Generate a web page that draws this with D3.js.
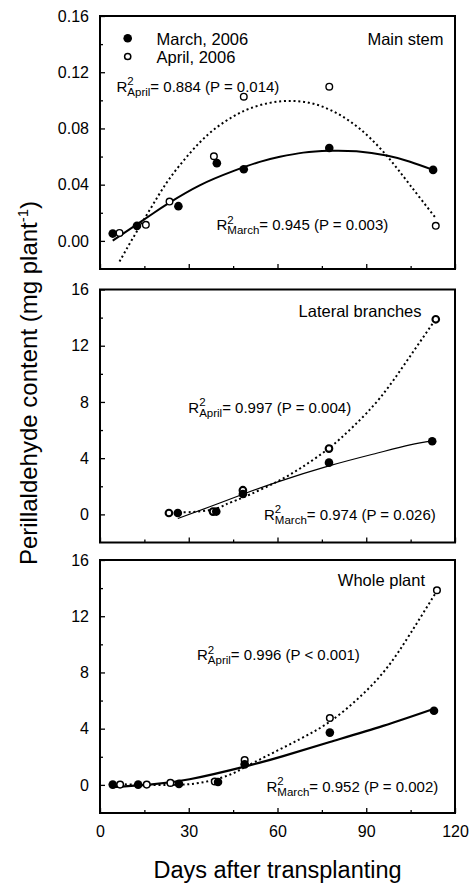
<!DOCTYPE html>
<html>
<head>
<meta charset="utf-8">
<script src="https://cdn.jsdelivr.net/npm/d3@7"></script>
<style>
  body { margin: 0; background: #fff; }
  svg { display: block; font-family: "Liberation Sans", Arial, sans-serif; }
</style>
</head>
<body>
<svg id="chart" width="469" height="885"></svg>
<script>
// ---- data ----
const panelNames = ["Main stem", "Lateral branches", "Whole plant"];
const seriesNames = ["March, 2006", "April, 2006"];
const xTicks = [0, 30, 60, 90, 120];
const xMinor = [15, 45, 75, 105];

// Main stem (mg plant-1)
const stemYTicks = [0.00, 0.04, 0.08, 0.12, 0.16];
const stemYMinor = [0.02, 0.06, 0.10, 0.14];
const stemMarchDays = [4.3, 12.5, 26.5, 39.5, 48.6, 77.5, 112.6];
const stemMarchVals = [0.0052, 0.0107, 0.0247, 0.0553, 0.0510, 0.0661, 0.0505];
const stemAprilDays = [6.6, 15.5, 23.5, 38.5, 48.6, 77.5, 113.5];
const stemAprilVals = [0.0057, 0.0114, 0.0280, 0.0602, 0.1026, 0.1097, 0.0107];
const stemMarchFitDays = [4.3, 11.1, 17.9, 23.5, 33.7, 45, 54, 60.8, 68.7, 77.5, 86.7, 96.9, 104.8, 112.6];
const stemMarchFitVals = [0.0002, 0.0098, 0.0195, 0.0272, 0.0395, 0.0496, 0.0562, 0.0598, 0.0628, 0.0641, 0.0637, 0.0607, 0.0563, 0.0505];
const stemAprilFitDays = [6.6, 11.1, 16.8, 22.4, 28, 33.7, 39.3, 45, 50.6, 57.4, 64.2, 70.9, 77.6, 84.4, 91.1, 97.9, 104.7, 113.2];
const stemAprilFitVals = [-0.0147, 0.0019, 0.022, 0.041, 0.0565, 0.070, 0.0805, 0.0885, 0.0942, 0.0982, 0.0996, 0.0982, 0.0934, 0.0852, 0.0736, 0.0582, 0.0400, 0.0170];

// Lateral branches
const latYTicks = [0, 4, 8, 12, 16];
const latYMinor = [2, 6, 10, 14];
const latMarchDays = [26.3, 39.3, 48.3, 77.4, 112.3];
const latMarchVals = [0.1, 0.2, 1.45, 3.68, 5.2];
const latAprilDays = [23.3, 38.2, 48.3, 77.4, 113.5];
const latAprilVals = [0.1, 0.2, 1.72, 4.68, 13.88];
const latMarchFitDays = [26.3, 37.1, 48.3, 59.6, 77.4, 93.5, 104.8, 112.3];
const latMarchFitVals = [-0.29, 0.54, 1.43, 2.28, 3.45, 4.35, 4.94, 5.23];
const latAprilFitDays = [23.5, 30, 38.2, 42.7, 48.3, 59.6, 68.6, 77.4, 85.6, 94.7, 104, 113.5];
const latAprilFitVals = [0.2, 0.16, 0.35, 0.72, 1.2, 2.3, 3.4, 4.71, 6.25, 8.3, 11.0, 13.9];

// Whole plant
const wholeYTicks = [0, 4, 8, 12, 16];
const wholeYMinor = [2, 6, 10, 14];
const wholeMarchDays = [4.3, 12.9, 26.7, 39.9, 48.9, 77.7, 112.9];
const wholeMarchVals = [0.02, 0.02, 0.07, 0.21, 1.46, 3.72, 5.28];
const wholeAprilDays = [6.8, 15.8, 23.8, 38.8, 48.9, 77.7, 113.9];
const wholeAprilVals = [0.02, 0.02, 0.14, 0.24, 1.77, 4.76, 13.85];
const wholeMarchFitDays = [4.3, 16.8, 30.3, 48.9, 61.9, 77.7, 95.7, 112.7];
const wholeMarchFitVals = [-0.16, 0.02, 0.4, 1.3, 2.05, 3.05, 4.2, 5.4];
const wholeAprilFitDays = [6.8, 15, 25, 33.9, 43, 48.9, 56.3, 67.5, 77.7, 87.8, 96.9, 105, 113.9];
const wholeAprilFitVals = [0.05, 0.0, 0.0, 0.15, 0.65, 1.25, 2.05, 3.25, 4.5, 6.25, 8.3, 10.8, 13.8];

// regression statistics
const aprilStats = ["= 0.884 (P = 0.014)", "= 0.997 (P = 0.004)", "= 0.996 (P < 0.001)"];
const marchStats = ["= 0.945 (P = 0.003)", "= 0.974 (P = 0.026)", "= 0.952 (P = 0.002)"];

// ---- layout ----
const left = 100, right = 455;
const panelTops = [16, 289.5, 560], panelH = 253;

const panels = [
  { yDomain: [-0.02, 0.16], ticks: stemYTicks, minor: stemYMinor, fmt: d3.format(".2f"),
    march: d3.zip(stemMarchDays, stemMarchVals), april: d3.zip(stemAprilDays, stemAprilVals),
    marchFit: d3.zip(stemMarchFitDays, stemMarchFitVals), aprilFit: d3.zip(stemAprilFitDays, stemAprilFitVals),
    solidW: 2, ringW: 1.4,
    nameX: 443.5, nameY: 29, aprX: 116.5, aprY: 75.7, marX: 216.5, marY: 214 },
  { yDomain: [-2, 16], ticks: latYTicks, minor: latYMinor, fmt: d3.format("d"),
    march: d3.zip(latMarchDays, latMarchVals), april: d3.zip(latAprilDays, latAprilVals),
    marchFit: d3.zip(latMarchFitDays, latMarchFitVals), aprilFit: d3.zip(latAprilFitDays, latAprilFitVals),
    solidW: 1.2, ringW: 2.1,
    nameX: 421.5, nameY: 27.2, aprX: 188.3, aprY: 123.2, marX: 264, marY: 230 },
  { yDomain: [-2, 16], ticks: wholeYTicks, minor: wholeYMinor, fmt: d3.format("d"),
    march: d3.zip(wholeMarchDays, wholeMarchVals), april: d3.zip(wholeAprilDays, wholeAprilVals),
    marchFit: d3.zip(wholeMarchFitDays, wholeMarchFitVals), aprilFit: d3.zip(wholeAprilFitDays, wholeAprilFitVals),
    solidW: 2.2, ringW: 1.5,
    nameX: 425, nameY: 26, aprX: 197, aprY: 100, marX: 266.5, marY: 231.7 }
];

const svg = d3.select("#chart");
const x = d3.scaleLinear().domain([0, 120]).range([left, right]);

function statLabel(g, px, py, sub, txt) {
  const t = g.append("text").attr("x", px).attr("y", py)
      .attr("font-size", 15).attr("fill", "#000");
  t.append("tspan").text("R");
  t.append("tspan").attr("font-size", 11.5).attr("dy", -6.5).text("2");
  t.append("tspan").attr("font-size", 11.5).attr("dx", -6.4).attr("dy", 10.5).text(sub);
  t.append("tspan").attr("dy", -4).text(txt);
}

panels.forEach((p, i) => {
  const top = panelTops[i], bottom = top + panelH;
  const y = d3.scaleLinear().domain(p.yDomain).range([bottom, top]);
  const g = svg.append("g");

  // ticks (inward)
  g.append("g").attr("transform", `translate(${left},0)`)
    .call(d3.axisLeft(y).tickValues(p.ticks).tickFormat(p.fmt).tickSizeInner(-5).tickSizeOuter(0).tickPadding(11))
    .call(a => a.select(".domain").remove());
  g.append("g").attr("transform", `translate(${left},0)`)
    .call(d3.axisLeft(y).tickValues(p.minor).tickFormat("").tickSizeInner(-3).tickSizeOuter(0))
    .call(a => a.select(".domain").remove());
  g.append("g").attr("transform", `translate(0,${bottom})`)
    .call(d3.axisBottom(x).tickValues(xTicks).tickFormat(i === 2 ? d3.format("d") : "")
      .tickSizeInner(-5).tickSizeOuter(0).tickPadding(13))
    .call(a => a.select(".domain").remove());
  g.append("g").attr("transform", `translate(0,${bottom})`)
    .call(d3.axisBottom(x).tickValues(xMinor).tickFormat("").tickSizeInner(-3).tickSizeOuter(0))
    .call(a => a.select(".domain").remove());

  g.selectAll(".tick line").attr("stroke", "#000").attr("stroke-width", 1.3);
  g.selectAll(".tick text").attr("font-size", 16).attr("fill", "#000")
    .attr("font-family", "Liberation Sans, Arial, sans-serif");

  // frame
  g.append("rect").attr("x", left).attr("y", top).attr("width", right - left).attr("height", panelH)
    .attr("fill", "none").attr("stroke", "#000").attr("stroke-width", 2);

  // fitted curves
  const line = d3.line().x(d => x(d[0])).y(d => y(d[1])).curve(d3.curveNatural);
  g.append("path").datum(p.aprilFit).attr("d", line)
    .attr("fill", "none").attr("stroke", "#000").attr("stroke-width", 2)
    .attr("stroke-dasharray", "2,2.8");
  g.append("path").datum(p.marchFit).attr("d", line)
    .attr("fill", "none").attr("stroke", "#000").attr("stroke-width", p.solidW);

  // points
  g.selectAll(".apr").data(p.april).enter().append("circle")
    .attr("cx", d => x(d[0])).attr("cy", d => y(d[1])).attr("r", 3.3)
    .attr("fill", "#fff").attr("stroke", "#000").attr("stroke-width", p.ringW);
  g.selectAll(".mar").data(p.march).enter().append("circle")
    .attr("cx", d => x(d[0])).attr("cy", d => y(d[1])).attr("r", 4.3)
    .attr("fill", "#000");

  // labels
  g.append("text").attr("x", p.nameX).attr("y", top + p.nameY).attr("text-anchor", "end")
    .attr("font-size", 16.5).text(panelNames[i]);
  statLabel(g, p.aprX, top + p.aprY, "April", aprilStats[i]);
  statLabel(g, p.marX, top + p.marY, "March", marchStats[i]);
});

// legend (top panel)
const leg = svg.append("g");
leg.append("circle").attr("cx", 127.7).attr("cy", 38.3).attr("r", 4.3).attr("fill", "#000");
leg.append("circle").attr("cx", 127.7).attr("cy", 56.5).attr("r", 3.1)
  .attr("fill", "#fff").attr("stroke", "#000").attr("stroke-width", 1.5);
leg.append("text").attr("x", 156.5).attr("y", 45).attr("font-size", 16.5).text(seriesNames[0]);
leg.append("text").attr("x", 156.5).attr("y", 62.7).attr("font-size", 16.5).text(seriesNames[1]);

// axis titles
svg.append("text").attr("x", (left + right) / 2).attr("y", 878).attr("text-anchor", "middle")
  .attr("font-size", 23.5).text("Days after transplanting");
const yt = svg.append("text").attr("transform", "translate(37,383) rotate(-90)")
  .attr("text-anchor", "middle").attr("font-size", 24);
yt.append("tspan").text("Perillaldehyde content (mg plant");
yt.append("tspan").attr("font-size", 15).attr("dy", -9).text("-1");
yt.append("tspan").attr("dy", 9).text(")");
</script>
</body>
</html>
